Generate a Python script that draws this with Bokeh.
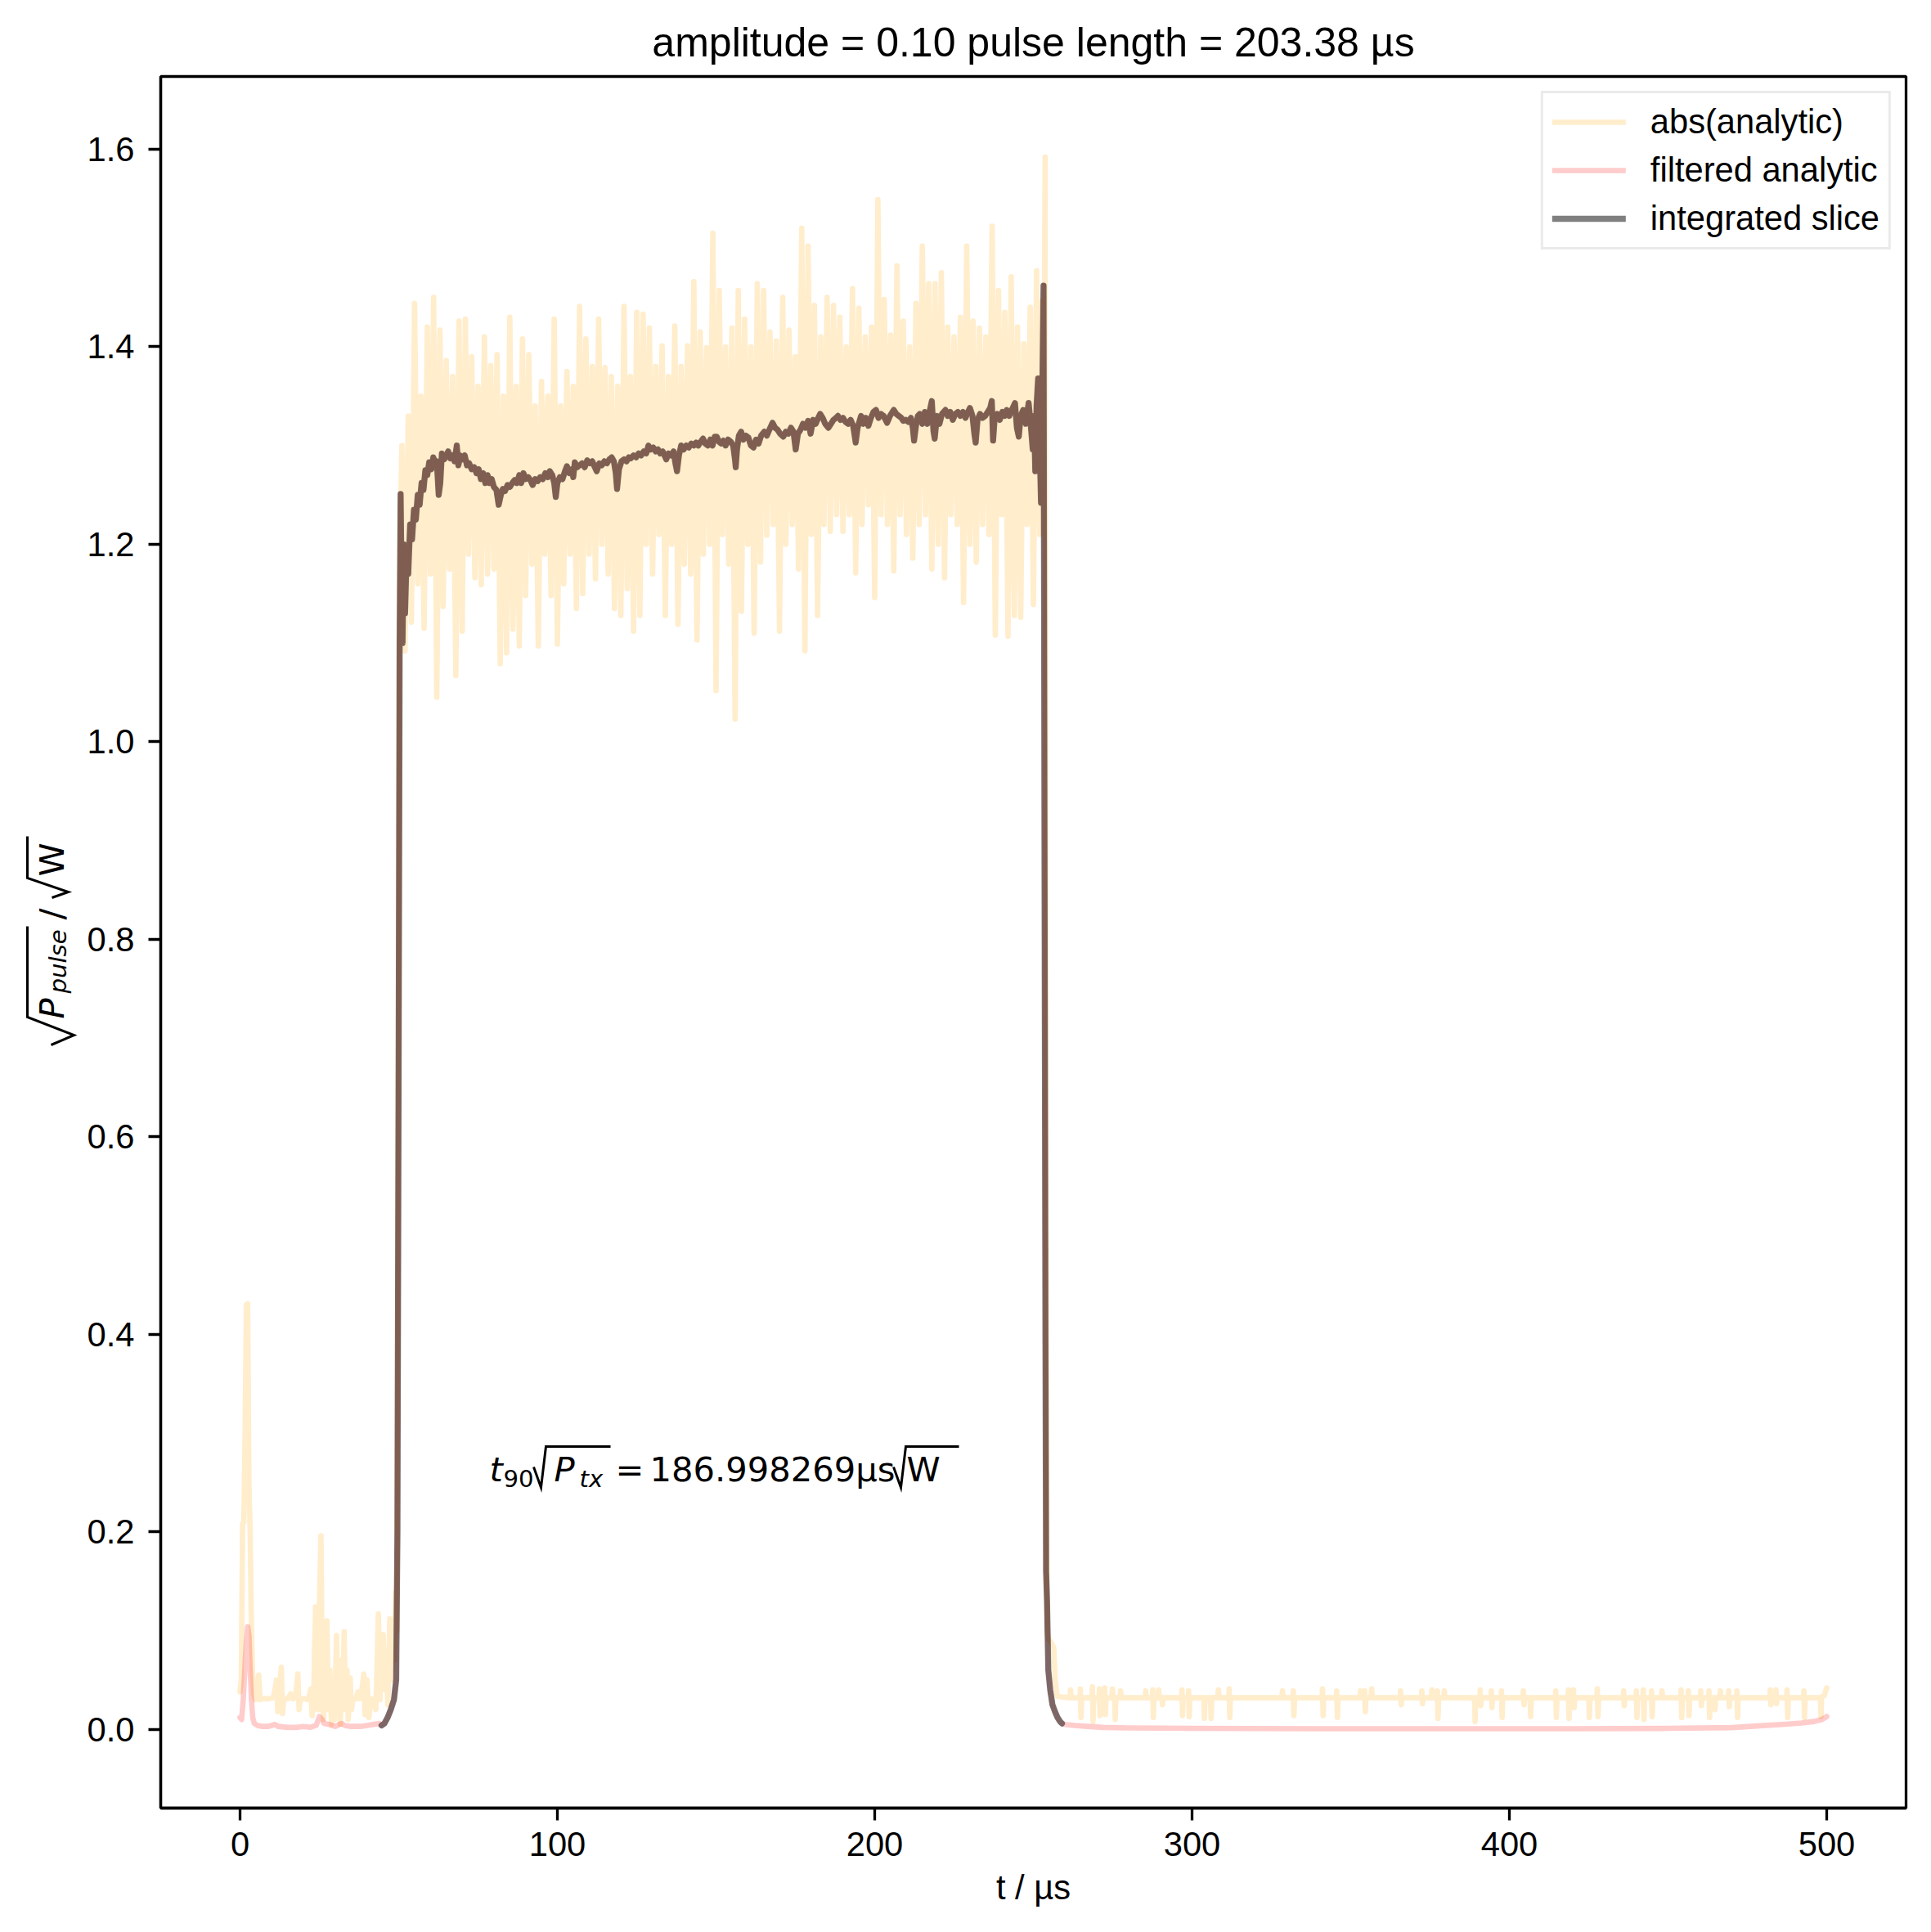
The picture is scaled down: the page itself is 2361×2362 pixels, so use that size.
from math import pi, sin, cos
from bokeh.plotting import figure
from bokeh.layouts import row
from bokeh.models import Range1d, FixedTicker, NumeralTickFormatter, Label, PolyAnnotation
from bokeh.embed import file_html
from bokeh.resources import INLINE

# ---------------- texts / ticks ----------------
TITLE = "amplitude = 0.10 pulse length = 203.38 µs"
X_LABEL = "t / µs"
X_TICKS = [0, 100, 200, 300, 400, 500]
Y_TICKS = [0.0, 0.2, 0.4, 0.6, 0.8, 1.0, 1.2, 1.4, 1.6]
SERIES = ["abs(analytic)", "filtered analytic", "integrated slice"]
ANNOT_NUMBER = "186.998269µs"

# ---------------- data (t in µs, value in sqrt(W)) ----------------
abs_pre = [
    (0.0, 0.038), (0.4, 0.05), (0.8, 0.208), (1.2, 0.21), (1.6, 0.30), (2.0, 0.43), (2.4, 0.431),
    (2.8, 0.25), (3.2, 0.20), (3.5, 0.12), (3.9, 0.06), (4.3, 0.035), (4.8, 0.03), (5.4, 0.032),
    (5.9, 0.055), (6.3, 0.03), (7.0, 0.031), (8.0, 0.031), (9.0, 0.031), (10.5, 0.032), (11.0, 0.04),
    (11.5, 0.05), (11.9, 0.018), (12.4, 0.04), (13.0, 0.063), (13.4, 0.016), (13.8, 0.031), (15.0, 0.031),
    (16.0, 0.036), (16.5, 0.031), (17.5, 0.032), (18.2, 0.056), (18.6, 0.02), (19.0, 0.031), (20.5, 0.031),
    (21.5, 0.03), (22.3, 0.041), (22.7, 0.014), (23.2, 0.031), (23.8, 0.124), (24.2, 0.08), (24.6, 0.02),
    (25.0, 0.12), (25.5, 0.196), (25.9, 0.06), (26.3, 0.01), (26.8, 0.09), (27.4, 0.11), (27.8, 0.02),
    (28.3, 0.06), (28.8, 0.005), (29.3, 0.05), (29.8, 0.01), (30.4, 0.095), (30.8, 0.03), (31.2, 0.07),
    (31.6, 0.005), (32.0, 0.06), (32.4, 0.02), (32.8, 0.099), (33.2, 0.03), (33.7, 0.06), (34.1, 0.01),
    (34.7, 0.052), (35.1, 0.02), (35.6, 0.03), (36.5, 0.031), (37.2, 0.038), (37.8, 0.031), (38.4, 0.04),
    (39.0, 0.056), (39.4, 0.015), (40.0, 0.05), (40.6, 0.012), (41.2, 0.031), (42.0, 0.03), (42.8, 0.02),
    (43.6, 0.117), (44.1, 0.03), (44.6, 0.08), (45.1, 0.096), (45.6, 0.04), (46.1, 0.07), (46.6, 0.025),
    (47.2, 0.112), (47.7, 0.05), (48.2, 0.09), (48.7, 0.07), (49.0, 0.139), (49.4, 0.10), (49.8, 0.60),
    (50.1, 1.10), (50.5, 1.22),
]
abs_pulse = [
    (51, 1.30), (52, 1.092), (53, 1.33), (54, 1.121), (55, 1.444), (56, 1.16), (57, 1.35), (58, 1.115),
    (59, 1.42), (60, 1.17), (61, 1.45), (62, 1.045), (63, 1.417), (64, 1.137), (65, 1.386), (66, 1.175),
    (67, 1.37), (68, 1.067), (69, 1.426), (70, 1.112), (71, 1.428), (72, 1.19), (73, 1.39), (74, 1.166),
    (75, 1.36), (76, 1.159), (77, 1.41), (78, 1.17), (79, 1.381), (80, 1.175), (81, 1.392), (82, 1.079),
    (83, 1.35), (84, 1.09), (85, 1.43), (86, 1.114), (87, 1.36), (88, 1.097), (89, 1.408), (90, 1.148),
    (91, 1.392), (92, 1.18), (93, 1.34), (94, 1.097), (95, 1.365), (96, 1.19), (97, 1.35), (98, 1.148),
    (99, 1.428), (100, 1.099), (101, 1.34), (102, 1.16), (103, 1.375), (104, 1.19), (105, 1.36), (106, 1.135),
    (107, 1.441), (108, 1.15), (109, 1.408), (110, 1.19), (111, 1.38), (112, 1.165), (113, 1.428), (114, 1.20),
    (115, 1.379), (116, 1.17), (117, 1.37), (118, 1.135), (119, 1.36), (120, 1.128), (121, 1.441), (122, 1.155),
    (123, 1.37), (124, 1.112), (125, 1.435), (126, 1.128), (127, 1.433), (128, 1.20), (129, 1.419), (130, 1.17),
    (131, 1.38), (132, 1.21), (133, 1.401), (134, 1.128), (135, 1.37), (136, 1.20), (137, 1.421), (138, 1.119),
    (139, 1.38), (140, 1.18), (141, 1.401), (142, 1.17), (143, 1.466), (144, 1.103), (145, 1.415), (146, 1.19),
    (147, 1.399), (148, 1.20), (149, 1.515), (150, 1.052), (151, 1.457), (152, 1.21), (153, 1.40), (154, 1.18),
    (155, 1.419), (156, 1.023), (157, 1.457), (158, 1.132), (159, 1.428), (160, 1.20), (161, 1.40), (162, 1.11),
    (163, 1.464), (164, 1.182), (165, 1.457), (166, 1.209), (167, 1.415), (168, 1.22), (169, 1.406), (170, 1.112),
    (171, 1.45), (172, 1.20), (173, 1.417), (174, 1.22), (175, 1.39), (176, 1.175), (177, 1.52), (178, 1.092),
    (179, 1.502), (180, 1.21), (181, 1.442), (182, 1.128), (183, 1.41), (184, 1.22), (185, 1.45), (186, 1.213),
    (187, 1.442), (188, 1.23), (189, 1.43), (190, 1.213), (191, 1.40), (192, 1.23), (193, 1.459), (194, 1.171),
    (195, 1.439), (196, 1.22), (197, 1.41), (198, 1.24), (199, 1.42), (200, 1.146), (201, 1.549), (202, 1.23),
    (203, 1.448), (204, 1.22), (205, 1.412), (206, 1.173), (207, 1.482), (208, 1.23), (209, 1.426), (210, 1.21),
    (211, 1.40), (212, 1.186), (213, 1.444), (214, 1.22), (215, 1.502), (216, 1.23), (217, 1.464), (218, 1.175),
    (219, 1.464), (220, 1.20), (221, 1.475), (222, 1.166), (223, 1.42), (224, 1.23), (225, 1.41), (226, 1.22),
    (227, 1.43), (228, 1.141), (229, 1.502), (230, 1.20), (231, 1.426), (232, 1.182), (233, 1.419), (234, 1.22),
    (235, 1.41), (236, 1.21), (237, 1.522), (238, 1.108), (239, 1.457), (240, 1.23), (241, 1.435), (242, 1.107),
    (243, 1.471), (244, 1.128), (245, 1.42), (246, 1.126), (247, 1.403), (248, 1.22), (249, 1.44), (250, 1.139),
    (251, 1.477), (252, 1.21), (252.6, 1.446), (253.2, 1.25), (253.7, 1.592), (254.0, 0.50),
]
abs_post = [
    (254.3, 0.10), (254.7, 0.092), (255.6, 0.088), (256.4, 0.083), (256.9, 0.05), (257.4, 0.034), (258.5, 0.033),
    (261.5, 0.032), (261.7, 0.040), (261.9, 0.032),
    (264.7, 0.032), (264.8, 0.041), (265.0, 0.012), (265.2, 0.032),
    (268.5, 0.032), (268.6, 0.043), (268.8, 0.008), (269.0, 0.032),
    (270.7, 0.032), (270.8, 0.041), (271.0, 0.014), (271.2, 0.032),
    (272.4, 0.032), (272.5, 0.042), (272.7, 0.015), (272.9, 0.032),
    (274.7, 0.032), (274.9, 0.041), (275.1, 0.032), (275.6, 0.032), (275.8, 0.010), (276.0, 0.032),
    (277.3, 0.032), (277.5, 0.039), (277.7, 0.032), (285.2, 0.032), (285.4, 0.039), (285.6, 0.032),
    (287.5, 0.032), (287.6, 0.040), (287.8, 0.012), (288.0, 0.032),
    (289.3, 0.032), (289.5, 0.040), (289.7, 0.032), (290.5, 0.032), (290.7, 0.025), (290.9, 0.032),
    (296.7, 0.032), (296.8, 0.040), (297.0, 0.014), (297.2, 0.032),
    (298.8, 0.032), (298.9, 0.039), (299.1, 0.013), (299.3, 0.032),
    (303.7, 0.032), (303.9, 0.011), (304.1, 0.032), (305.8, 0.032), (306.0, 0.011), (306.2, 0.032),
    (308.1, 0.032), (308.3, 0.040), (308.5, 0.032),
    (311.6, 0.032), (311.7, 0.041), (311.9, 0.012), (312.1, 0.032),
    (328.3, 0.032), (328.5, 0.039), (328.7, 0.032),
    (331.8, 0.032), (331.9, 0.039), (332.1, 0.014), (332.3, 0.032),
    (341.0, 0.032), (341.1, 0.041), (341.3, 0.014), (341.5, 0.032),
    (345.5, 0.032), (345.6, 0.039), (345.8, 0.012), (346.0, 0.032),
    (352.9, 0.032), (353.1, 0.039), (353.3, 0.032),
    (354.3, 0.032), (354.4, 0.039), (354.6, 0.018), (354.8, 0.032),
    (356.4, 0.032), (356.6, 0.041), (356.8, 0.032),
    (365.6, 0.032), (365.7, 0.039), (365.9, 0.025), (366.1, 0.032),
    (372.3, 0.032), (372.4, 0.039), (372.6, 0.026), (372.8, 0.032),
    (375.4, 0.032), (375.6, 0.040), (375.8, 0.032),
    (377.2, 0.032), (377.3, 0.039), (377.5, 0.011), (377.7, 0.032),
    (379.3, 0.032), (379.5, 0.039), (379.7, 0.032),
    (389.0, 0.032), (389.2, 0.008), (389.4, 0.032),
    (390.7, 0.032), (390.8, 0.040), (391.0, 0.024), (391.2, 0.032),
    (394.2, 0.032), (394.3, 0.039), (394.5, 0.022), (394.7, 0.032),
    (397.4, 0.032), (397.5, 0.039), (397.7, 0.012), (397.9, 0.032),
    (404.3, 0.032), (404.4, 0.039), (404.6, 0.025), (404.8, 0.032),
    (406.5, 0.032), (406.7, 0.013), (406.9, 0.032),
    (414.5, 0.032), (414.6, 0.039), (414.8, 0.012), (415.0, 0.032),
    (418.5, 0.032), (418.6, 0.040), (418.8, 0.011), (419.0, 0.032),
    (420.1, 0.032), (420.2, 0.040), (420.4, 0.022), (420.6, 0.032),
    (425.0, 0.032), (425.2, 0.012), (425.4, 0.032),
    (427.6, 0.032), (427.7, 0.041), (427.9, 0.013), (428.1, 0.032),
    (435.9, 0.032), (436.0, 0.039), (436.2, 0.024), (436.4, 0.032),
    (439.9, 0.032), (440.0, 0.039), (440.2, 0.012), (440.4, 0.032),
    (442.1, 0.032), (442.2, 0.040), (442.4, 0.010), (442.6, 0.032),
    (444.7, 0.032), (444.8, 0.039), (445.0, 0.013), (445.2, 0.032),
    (447.9, 0.032), (448.1, 0.039), (448.3, 0.032),
    (454.0, 0.032), (454.1, 0.040), (454.3, 0.012), (454.5, 0.032),
    (456.3, 0.032), (456.4, 0.039), (456.6, 0.014), (456.8, 0.032),
    (460.2, 0.032), (460.3, 0.039), (460.5, 0.024), (460.7, 0.032),
    (462.8, 0.032), (462.9, 0.039), (463.1, 0.012), (463.3, 0.032),
    (464.6, 0.032), (464.8, 0.020), (465.0, 0.032),
    (466.3, 0.032), (466.5, 0.039), (466.7, 0.032),
    (469.0, 0.032), (469.1, 0.039), (469.3, 0.023), (469.5, 0.032),
    (471.6, 0.032), (471.7, 0.039), (471.9, 0.012), (472.1, 0.032),
    (482.1, 0.032), (482.2, 0.040), (482.4, 0.025), (482.6, 0.032),
    (483.9, 0.032), (484.0, 0.040), (484.2, 0.026), (484.4, 0.032),
    (487.4, 0.032), (487.5, 0.040), (487.7, 0.012), (487.9, 0.032),
    (492.7, 0.032), (492.8, 0.039), (493.0, 0.012), (493.2, 0.032),
    (498.0, 0.032), (498.2, 0.013), (498.4, 0.033), (499.2, 0.034), (500.0, 0.042),
]

filt_pre = [
    (0.0, 0.012), (0.5, 0.010), (1.0, 0.03), (1.5, 0.06), (2.0, 0.09), (2.4, 0.104), (2.8, 0.095),
    (3.2, 0.06), (3.6, 0.03), (4.0, 0.012), (4.5, 0.006), (5.5, 0.004), (7.0, 0.003), (9.0, 0.003),
    (11.0, 0.005), (12.0, 0.003), (15.0, 0.002), (18.0, 0.002), (20.0, 0.003), (22.0, 0.002), (24.0, 0.004),
    (25.0, 0.013), (25.8, 0.010), (26.5, 0.006), (28.0, 0.005), (30.0, 0.003), (32.0, 0.006), (33.0, 0.004),
    (35.0, 0.003), (38.0, 0.003), (40.0, 0.004), (42.0, 0.005), (44.0, 0.006),
]
# part of the filtered analytic that is integrated (the "integrated slice")
filt_pulse = [
    (44.6, 0.004), (45.5, 0.006), (46.5, 0.012), (47.5, 0.02), (48.5, 0.03), (49.2, 0.05), (49.6, 0.2),
    (50.0, 0.7), (50.3, 1.1), (50.6, 1.251), (50.9, 1.16), (51.2, 1.10), (51.6, 1.20), (52.0, 1.13),
    (52.5, 1.19), (53.0, 1.17), (53.6, 1.22), (54.2, 1.205), (54.8, 1.235), (55.4, 1.225), (56.0, 1.25),
    (56.6, 1.24), (57.2, 1.262), (57.8, 1.255), (58.4, 1.275), (59.0, 1.27), (59.6, 1.283), (60.3, 1.276),
    (60.9, 1.288), (61.5, 1.282), (62.0, 1.284), (62.6, 1.25), (63.1, 1.262), (63.6, 1.292), (64.3, 1.286),
    (65.0, 1.29), (65.6, 1.294), (66.2, 1.287), (67.0, 1.29), (67.6, 1.284), (68.3, 1.30), (68.8, 1.28),
    (69.4, 1.29), (70.0, 1.286), (70.8, 1.29), (71.5, 1.28), (72.2, 1.282), (73.0, 1.276), (73.8, 1.278),
    (74.5, 1.272), (75.2, 1.276), (75.9, 1.266), (76.6, 1.272), (77.3, 1.262), (78.0, 1.27), (78.6, 1.262),
    (79.3, 1.266), (80.0, 1.258), (80.8, 1.255), (81.5, 1.24), (82.2, 1.25), (82.8, 1.256), (83.5, 1.254),
    (84.3, 1.26), (85.0, 1.258), (85.8, 1.262), (86.5, 1.265), (87.2, 1.262), (88.0, 1.27), (88.6, 1.262),
    (89.3, 1.272), (90.0, 1.266), (90.8, 1.268), (91.5, 1.265), (92.2, 1.26), (93.0, 1.266), (93.8, 1.264),
    (94.6, 1.268), (95.4, 1.266), (96.2, 1.272), (97.0, 1.268), (97.6, 1.274), (98.4, 1.27), (99.0, 1.262),
    (99.5, 1.248), (100.0, 1.262), (100.8, 1.268), (101.6, 1.266), (102.4, 1.274), (103.0, 1.279),
    (103.8, 1.272), (104.6, 1.276), (105.0, 1.268), (105.5, 1.283), (106.2, 1.278), (107.0, 1.28),
    (107.8, 1.282), (108.6, 1.278), (109.4, 1.285), (110.2, 1.282), (111.0, 1.284), (111.8, 1.278),
    (112.4, 1.274), (113.2, 1.282), (114.0, 1.28), (114.8, 1.284), (115.6, 1.282), (116.4, 1.286),
    (117.1, 1.288), (117.8, 1.284), (118.4, 1.272), (118.8, 1.256), (119.4, 1.276), (120.2, 1.284),
    (121.0, 1.286), (121.8, 1.284), (122.5, 1.288), (123.1, 1.287), (124.0, 1.29), (124.8, 1.288),
    (125.6, 1.292), (126.4, 1.29), (127.2, 1.294), (128.0, 1.292), (128.7, 1.30), (129.4, 1.296),
    (130.2, 1.298), (131.0, 1.294), (131.7, 1.296), (132.4, 1.292), (133.2, 1.294), (134.3, 1.286),
    (135.0, 1.292), (135.8, 1.29), (136.6, 1.294), (137.2, 1.282), (137.7, 1.274), (138.3, 1.29),
    (139.0, 1.30), (139.8, 1.296), (140.6, 1.30), (141.4, 1.298), (142.2, 1.302), (143.0, 1.30),
    (143.7, 1.303), (144.4, 1.30), (145.2, 1.304), (145.9, 1.307), (146.6, 1.302), (147.4, 1.30),
    (148.2, 1.306), (148.9, 1.30), (149.6, 1.309), (150.2, 1.309), (150.9, 1.304), (151.6, 1.302),
    (152.3, 1.305), (153.0, 1.30), (153.8, 1.306), (154.6, 1.304), (155.4, 1.30), (156.0, 1.285),
    (156.2, 1.278), (156.6, 1.296), (157.2, 1.31), (157.9, 1.314), (158.6, 1.306), (159.4, 1.31),
    (160.2, 1.308), (161.0, 1.30), (161.8, 1.298), (162.6, 1.306), (163.4, 1.302), (164.2, 1.31),
    (165.2, 1.314), (166.0, 1.31), (166.8, 1.316), (167.8, 1.323), (168.6, 1.318), (169.4, 1.316),
    (170.2, 1.312), (171.2, 1.309), (172.0, 1.314), (172.8, 1.312), (173.6, 1.318), (174.4, 1.314),
    (175.1, 1.296), (175.8, 1.312), (176.6, 1.316), (177.4, 1.322), (178.2, 1.318), (179.0, 1.325),
    (179.8, 1.312), (180.6, 1.326), (181.4, 1.322), (182.2, 1.328), (182.8, 1.332), (183.6, 1.328),
    (184.4, 1.322), (185.4, 1.318), (186.2, 1.322), (187.0, 1.326), (187.8, 1.328), (188.4, 1.33),
    (189.2, 1.326), (190.0, 1.328), (190.8, 1.324), (191.6, 1.322), (192.4, 1.326), (193.2, 1.32),
    (194.0, 1.303), (194.6, 1.318), (195.7, 1.33), (196.4, 1.322), (197.2, 1.328), (198.0, 1.32),
    (198.8, 1.328), (199.6, 1.334), (200.4, 1.336), (201.2, 1.328), (202.0, 1.332), (202.8, 1.33),
    (203.9, 1.323), (204.8, 1.33), (206.0, 1.336), (206.8, 1.332), (207.6, 1.33), (208.4, 1.328),
    (209.0, 1.325), (209.8, 1.326), (210.6, 1.324), (211.4, 1.328), (212.0, 1.318), (212.4, 1.305),
    (213.0, 1.32), (213.6, 1.33), (214.2, 1.332), (215.0, 1.322), (215.8, 1.334), (216.6, 1.322),
    (217.4, 1.336), (218.0, 1.345), (218.5, 1.315), (218.9, 1.307), (219.6, 1.33), (220.4, 1.322),
    (221.2, 1.332), (222.3, 1.336), (223.0, 1.33), (223.8, 1.334), (224.6, 1.326), (225.4, 1.332),
    (226.2, 1.334), (227.0, 1.33), (227.8, 1.334), (228.6, 1.328), (229.4, 1.334), (230.0, 1.338),
    (230.8, 1.33), (231.4, 1.312), (231.8, 1.303), (232.4, 1.326), (233.2, 1.332), (234.0, 1.328),
    (234.8, 1.33), (235.6, 1.334), (236.4, 1.338), (236.9, 1.345), (237.3, 1.305), (237.8, 1.328),
    (238.6, 1.332), (239.4, 1.326), (240.2, 1.334), (241.0, 1.33), (241.6, 1.336), (242.4, 1.33),
    (243.2, 1.336), (244.2, 1.343), (244.8, 1.318), (245.4, 1.309), (246.0, 1.33), (246.8, 1.336),
    (247.6, 1.322), (248.5, 1.343), (249.2, 1.32), (249.8, 1.296), (250.2, 1.33), (250.6, 1.274),
    (251.0, 1.34), (251.5, 1.368), (252.0, 1.30), (252.4, 1.242), (252.8, 1.35), (253.2, 1.462),
    (253.5, 0.9), (253.8, 0.4), (254.0, 0.16), (254.3, 0.13), (254.7, 0.06), (255.3, 0.04),
    (256.0, 0.025), (256.8, 0.018), (257.6, 0.012), (258.4, 0.008), (259.0, 0.006),
]
filt_post = [
    (260.0, 0.005), (263.0, 0.004), (267.0, 0.003), (272.0, 0.002), (280.0, 0.0015), (300.0, 0.001),
    (340.0, 0.0007), (380.0, 0.0006), (420.0, 0.0007), (450.0, 0.001), (470.0, 0.0018), (478.0, 0.0034),
    (486.0, 0.005), (492.0, 0.0065), (496.0, 0.008), (498.5, 0.010), (500.0, 0.013),
]

abs_all = abs_pre + abs_pulse + abs_post
filt_all = filt_pre + filt_pulse + filt_post
slice_all = filt_pulse

# ---------------- layout ----------------
TOTAL_W, H = 2360, 2360
LAB_W = 100                       # strip that carries the y-axis label
FR_L, FR_T, FR_R, FR_B = 196, 93, 2330, 2210   # frame edges on the page
TXT = "Liberation Sans"
MATH = "DejaVu Sans"
FS = 41.67
SUB = 0.7 * FS
LW = 6.6
LW_SLICE = 7.4
BASE_FIX = 0.38   # label anchor -> alphabetic baseline correction (fraction of font size)

p = figure(width=TOTAL_W - LAB_W, height=H, x_range=Range1d(-25, 525), y_range=Range1d(-0.0797, 1.6737),
           output_backend="svg", toolbar_location=None,
           min_border_left=FR_L - LAB_W, min_border_top=FR_T,
           min_border_right=TOTAL_W - FR_R, min_border_bottom=H - FR_B)
p.background_fill_color = "white"
p.border_fill_color = "white"
p.grid.visible = False
p.outline_line_color = "black"
p.outline_line_width = 3.3
p.outline_line_alpha = 1.0

p.title.text = TITLE
p.title.text_font = TXT
p.title.text_font_size = "50px"
p.title.text_font_style = "normal"
p.title.text_color = "black"
p.title.align = "center"
p.title.standoff = 27

for ax in (p.xaxis[0], p.yaxis[0]):
    ax.axis_line_width = 3.3
    ax.major_tick_line_width = 3.3
    ax.major_tick_in = 0
    ax.major_tick_out = 15
    ax.minor_tick_line_color = None
    ax.major_label_text_font = TXT
    ax.major_label_text_font_size = f"{FS}px"
    ax.major_label_text_color = "black"

p.xaxis.major_label_standoff = 14
p.yaxis.major_label_standoff = 17
p.xaxis.ticker = FixedTicker(ticks=X_TICKS)
p.yaxis.ticker = FixedTicker(ticks=Y_TICKS)
p.yaxis.formatter = NumeralTickFormatter(format="0.0")
p.xaxis.axis_label = X_LABEL
p.xaxis.axis_label_text_font = TXT
p.xaxis.axis_label_text_font_size = f"{FS}px"
p.xaxis.axis_label_text_font_style = "normal"
p.xaxis.axis_label_text_color = "black"
p.xaxis.axis_label_standoff = 12

common = dict(line_join="round", line_cap="round")
p.line([t for t, _ in abs_all], [v for _, v in abs_all], line_color="orange", line_alpha=0.2,
       line_width=LW, legend_label=SERIES[0], **common)
p.line([t for t, _ in filt_all], [v for _, v in filt_all], line_color="red", line_alpha=0.2,
       line_width=LW, legend_label=SERIES[1], **common)
p.line([t for t, _ in slice_all], [v for _, v in slice_all], line_color="black", line_alpha=0.5,
       line_width=LW_SLICE, legend_label=SERIES[2], **common)

lg = p.legend[0]
lg.location = "top_right"
lg.margin = 18
lg.padding = 11
lg.spacing = 11
lg.glyph_width = 90
lg.glyph_height = 42
lg.label_height = 42
lg.label_standoff = 30
lg.label_text_font = TXT
lg.label_text_font_size = f"{FS}px"
lg.label_text_color = "black"
lg.label_text_baseline = "middle"
lg.border_line_color = "#d6d6d6"
lg.border_line_width = 3
lg.background_fill_color = "white"
lg.background_fill_alpha = 0.8

# strip on the left for the y-axis label (its frame is aligned with the main frame: y 93..2210)
lf = figure(width=LAB_W, height=H, x_range=Range1d(0, LAB_W), y_range=Range1d(0, H),
            output_backend="svg", toolbar_location=None, x_axis_type=None, y_axis_type=None,
            min_border=0, title=None)
lf.outline_line_color = None
lf.background_fill_color = "white"
lf.border_fill_color = "white"


# ---------------- math-style texts (screen units, relative to each frame) ----------------
def add_text(fig, sx, sy, text, size, style="normal", angle=0.0):
    d = BASE_FIX * size
    fig.add_layout(Label(x=sx - sin(angle) * d, y=sy + cos(angle) * d, x_units="screen", y_units="screen",
                         text=text, angle=angle, text_font=MATH, text_font_size=f"{size}px",
                         text_font_style=style, text_baseline="alphabetic", text_align="left",
                         text_color="black"))


def add_radical(fig, pts):
    path = pts + pts[-2:0:-1]
    fig.add_layout(PolyAnnotation(xs=[q[0] for q in path], ys=[q[1] for q in path],
                                  xs_units="screen", ys_units="screen", fill_color=None, fill_alpha=0,
                                  line_color="black", line_alpha=1.0, line_width=3, line_join="miter"))


# y axis label: sqrt(P_pulse) / sqrt(W), rotated (page x = 79 baseline, starts at page y = 1277)
YX, YY = 79, FR_B - 1277


def yl(u, v):
    return (YX - v, YY + u)


add_radical(lf, [yl(0, 17), yl(12, -11), yl(34, 46), yl(145, 46)])
add_text(lf, *yl(32, 0), "P", FS, "italic", pi / 2)
add_text(lf, *yl(63, -3), "pulse", SUB, "italic", pi / 2)
add_text(lf, *yl(153, 0), "/", FS, "normal", pi / 2)
add_radical(lf, [yl(180, 16), yl(187, -4), yl(204, 46), yl(255, 46)])
add_text(lf, *yl(206, 0), "W", FS, "normal", pi / 2)

# annotation inside the axes (page position 598, baseline 1812)
AX, AY = 598 - FR_L, FR_B - 1812


def an(u, v):
    return (AX + u, AY + v)


add_text(p, *an(0, 0), "t", FS, "italic")
add_text(p, *an(17, -6), "90", SUB, "normal")
add_radical(p, [an(54, 19), an(63, -6), an(69, 44), an(148, 44)])
add_text(p, *an(79, 0), "P", FS, "italic")
add_text(p, *an(110, -7), "tx", SUB, "italic")
add_text(p, *an(154, 0), "=", FS, "normal")
add_text(p, *an(196, 0), ANNOT_NUMBER, FS, "normal")
add_radical(p, [an(494, 19), an(503, -6), an(509, 44), an(574, 44)])
add_text(p, *an(510, 0), "W", FS, "normal")

layout = row(lf, p, spacing=0)
open("out.html", "w").write(file_html(layout, INLINE))
